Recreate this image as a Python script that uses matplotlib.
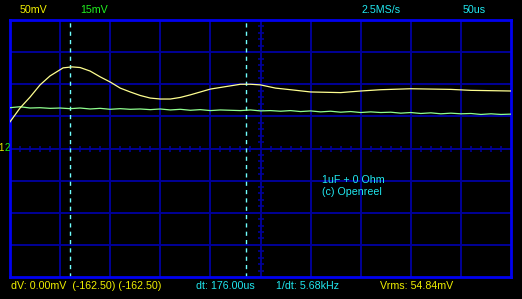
import matplotlib
matplotlib.use("Agg")
import matplotlib.pyplot as plt
import numpy as np

# scope settings: 50us/div horizontally, 10 divs; 8 divs vertically
time_per_div = 50
n_xdiv = 10
n_ydiv = 8

# channel 1 (yellow), time in us, value in divisions
ch1_t = [0, 10, 20, 30, 40, 53, 62, 70, 80, 90, 100, 110, 120, 130, 140, 150,
         160, 170, 180, 190, 200, 210, 220, 230, 240, 250, 265, 280, 300, 330,
         350, 370, 400, 440, 460, 500]
ch1_v = [0.83, 1.26, 1.60, 1.98, 2.26, 2.51, 2.54, 2.52, 2.41, 2.23, 2.07, 1.88,
         1.76, 1.65, 1.57, 1.54, 1.54, 1.59, 1.67, 1.76, 1.85, 1.90, 1.95, 2.00,
         2.00, 1.98, 1.88, 1.83, 1.76, 1.74, 1.79, 1.83, 1.86, 1.84, 1.81, 1.79]

# channel 2 (green), sampled every 10us
ch2_t = list(range(0, 510, 10))
ch2_v = [1.27, 1.30, 1.26, 1.27, 1.25, 1.26, 1.24, 1.26, 1.23, 1.25,
         1.22, 1.24, 1.22, 1.23, 1.21, 1.23, 1.20, 1.22, 1.19, 1.21,
         1.18, 1.20, 1.19, 1.18, 1.20, 1.17, 1.18, 1.16, 1.18, 1.15,
         1.17, 1.14, 1.16, 1.13, 1.15, 1.12, 1.14, 1.12, 1.13, 1.10,
         1.12, 1.09, 1.11, 1.08, 1.10, 1.08, 1.09, 1.06, 1.08, 1.06, 1.07]

# time cursors (us)
cursors = [60, 236]

W, H = 522, 299
fig = plt.figure(figsize=(W / 100, H / 100), dpi=100, facecolor="black")
ax = fig.add_axes([10 / W, (H - 277) / H, 501 / W, 257 / H], facecolor="black")

xmax = time_per_div * n_xdiv
ax.set_xlim(0, xmax)
ax.set_ylim(-n_ydiv / 2, n_ydiv / 2)

grid_col = "#000098"
for i in range(1, n_xdiv):
    ax.axvline(i * time_per_div, color=grid_col, lw=1.4, zorder=1)
for j in range(1, n_ydiv):
    ax.axhline(j - n_ydiv / 2, color=grid_col, lw=1.4, zorder=1)

# small ticks on the centre lines
tx = [t for t in range(10, xmax, 10) if t % time_per_div != 0]
ax.plot(tx, [0] * len(tx), linestyle="none", marker="|", ms=4, mew=1.2,
        color=grid_col, zorder=1)
ty = [v / 5 - n_ydiv / 2 for v in range(1, n_ydiv * 5) if v % 5 != 0]
ax.plot([xmax / 2] * len(ty), ty, linestyle="none", marker="_", ms=4, mew=1.2,
        color=grid_col, zorder=1)

for s in ax.spines.values():
    s.set_color("#0000F0")
    s.set_linewidth(2)
ax.set_xticks([])
ax.set_yticks([])

# cursors
for c in cursors:
    ax.axvline(c, color="#70FFFF", lw=1, linestyle=(0, (3, 3)), zorder=2)

ax.plot(ch2_t, ch2_v, color="#90FF90", lw=0.9, zorder=3)
ax.plot(ch1_t, ch1_v, color="#FFFF90", lw=0.9, zorder=4)

font = ["Liberation Sans", "DejaVu Sans"]
yellow = "#F0F000"
green = "#20F020"
cyan = "#20E8F0"


def label(x, y, s, col, size=7.7):
    fig.text(x / W, 1 - y / H, s, color=col, fontsize=size, family=font,
             ha="left", va="center")


label(20, 10, "50mV", yellow)
label(80, 10, "15mV", green)
label(362, 10, "2.5MS/s", cyan)
label(463, 10, "50us", cyan)

label(11, 286, "dV: 0.00mV  (-162.50) (-162.50)", yellow)
label(196, 286, "dt: 176.00us", cyan)
label(276, 286, "1/dt: 5.68kHz", cyan)
label(380, 286, "Vrms: 54.84mV", yellow)

label(322, 180, "1uF + 0 Ohm", cyan)
label(322, 192, "(c) Openreel", cyan)

# channel markers at the left edge
label(-1.5, 148, "1", yellow, 7)
label(4.2, 148, "2", green, 7)

fig.savefig("out.png", dpi=100, facecolor="black")
